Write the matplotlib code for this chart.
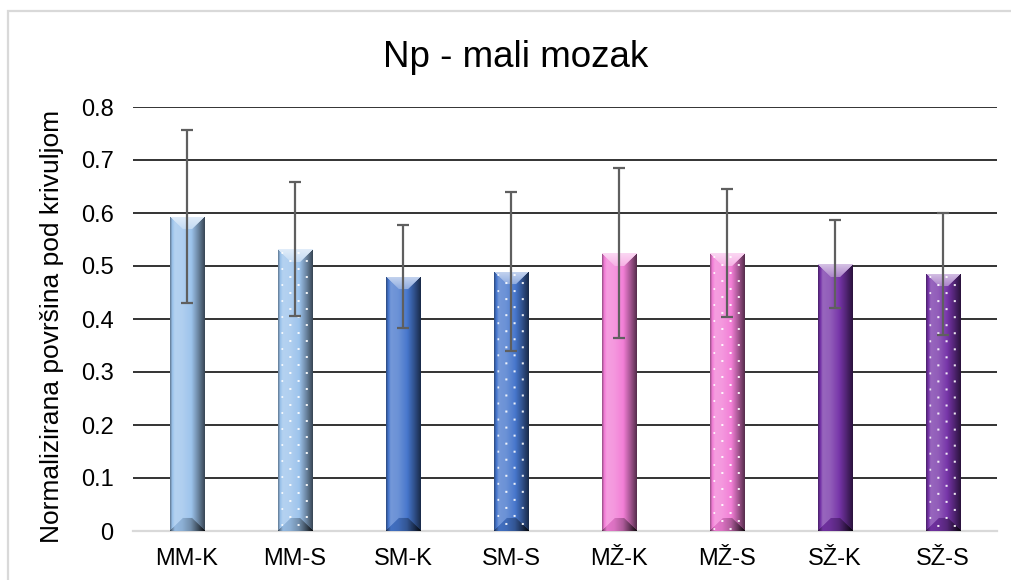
import numpy as np
import matplotlib
matplotlib.use("Agg")
import matplotlib.pyplot as plt
from matplotlib.colors import to_rgb
from matplotlib.patches import Rectangle

plt.rcParams["font.family"] = ["Liberation Sans", "DejaVu Sans"]

# --- data ---------------------------------------------------------------
categories = ["MM-K", "MM-S", "SM-K", "SM-S", "MŽ-K", "MŽ-S", "SŽ-K", "SŽ-S"]
means = [0.593, 0.532, 0.480, 0.489, 0.524, 0.524, 0.503, 0.485]
errors = [0.163, 0.126, 0.097, 0.150, 0.160, 0.121, 0.083, 0.115]
bar_colors = ["#9cc3ec", "#9cc3ec", "#4676cc", "#4676cc",
              "#f27ed6", "#f27ed6", "#7634a8", "#7634a8"]
dotted = [False, True, False, True, False, True, False, True]
y_ticks = [0, 0.1, 0.2, 0.3, 0.4, 0.5, 0.6, 0.7, 0.8]
y_tick_labels = ["0", "0.1", "0.2", "0.3", "0.4", "0.5", "0.6", "0.7", "0.8"]

title = "Np - mali mozak"
y_title = "Normalizirana površina pod krivuljom"

W_PX, H_PX, DPI = 1011, 580, 100
fig = plt.figure(figsize=(W_PX / DPI, H_PX / DPI), dpi=DPI)
ax = fig.add_axes([133 / W_PX, 1 - 531 / H_PX, (997 - 133) / W_PX, (531 - 107) / H_PX])

x = np.arange(len(categories))
bar_w = 0.315
ax.set_xlim(-0.5, len(categories) - 0.5)
ax.set_ylim(0, 0.8)

bars = ax.bar(x, means, width=bar_w, color=bar_colors, zorder=2,
              edgecolor="none")


def shade(rgb, amt):
    """amt > 0 blends towards white, amt < 0 towards black."""
    amt = amt[..., None]
    light = rgb + (1 - rgb) * np.clip(amt, 0, 1)
    dark = rgb * (1 + np.clip(amt, -1, 0))
    return np.where(amt >= 0, light, dark)


def bevel_image(wpx, hpx, color, with_dots):
    rgb = np.array(to_rgb(color))
    U, V = np.meshgrid(np.arange(wpx) + 0.5, np.arange(hpx) + 0.5)
    t = U / wpx
    # cylinder-like horizontal shading of the front face
    face = np.interp(t, [0, 0.06, 0.14, 0.35, 0.6, 0.8, 1.0],
                     [-0.4, -0.05, 0.25, 0.2, 0.02, -0.3, -0.65])
    amt = face.copy()
    b = min(0.38 * wpx, hpx / 2)
    dl, dr, dt, db = U, wpx - U, V, hpx - V
    top = (dt < b) & (dt <= dl) & (dt <= dr)
    bottom = (db < b) & (db <= dl) & (db <= dr)
    amt[top] = 0.7 - 0.3 * (dt[top] / b)
    amt[bottom] = face[bottom] - 0.3
    img = shade(rgb, amt)
    if with_dots:
        ui = np.floor(U).astype(int)
        vi = np.floor(V).astype(int)
        dots = (np.isin(ui % 8, [3, 4]) & np.isin(vi % 8, [3, 4])
                & (((ui // 8) + (vi // 8)) % 2 == 0))
        strength = np.where((t > 0.12) & (t < 0.85), 0.9, 0.5)
        img = np.where(dots[..., None],
                       img + (1 - img) * strength[..., None], img)
    alpha = np.ones(img.shape[:2] + (1,))
    return np.concatenate([img, alpha], axis=2)


for rect, col, dot in zip(bars, bar_colors, dotted):
    x0, y0 = rect.get_x(), rect.get_y()
    x1, y1 = x0 + rect.get_width(), y0 + rect.get_height()
    (px0, py0), (px1, py1) = ax.transData.transform([(x0, y0), (x1, y1)])
    wpx = max(int(round(px1 - px0)), 2)
    hpx = max(int(round(py1 - py0)), 2)
    im = ax.imshow(bevel_image(wpx, hpx, col, dot), extent=(x0, x1, y0, y1),
                   origin="upper", aspect="auto", interpolation="bilinear",
                   zorder=2.5)
    im.set_clip_path(rect)

ax.set_xlim(-0.5, len(categories) - 0.5)
ax.set_ylim(0, 0.8)

ax.errorbar(x, means, yerr=errors, fmt="none", ecolor="#5f5f5f",
            elinewidth=1.6, capsize=4, capthick=1.6, zorder=3)

# grid and axes styling
ax.set_axisbelow(True)
ax.yaxis.grid(True, color="#111111", linewidth=1.2)
ax.set_yticks(y_ticks)
ax.set_yticklabels(y_tick_labels)
ax.set_xticks(x)
ax.set_xticklabels(categories)
ax.tick_params(axis="both", length=0, labelsize=17, colors="#000000")
ax.tick_params(axis="y", pad=14)
ax.tick_params(axis="x", pad=12)
for side in ("top", "right", "left"):
    ax.spines[side].set_visible(False)
ax.spines["bottom"].set_color("#d9d9d9")
ax.spines["bottom"].set_linewidth(1.6)
ax.spines["bottom"].set_zorder(1)

fig.text(516 / W_PX, 1 - 67 / H_PX, title, ha="center", va="baseline",
         fontsize=26.5, color="#000000")
fig.text(52 / W_PX, 1 - 326 / H_PX, y_title, rotation=90, ha="center",
         va="center", fontsize=19, color="#000000")

# chart frame
fig.add_artist(Rectangle((8 / W_PX, -0.2), 1.2, 1.2 - 11 / H_PX,
                         transform=fig.transFigure, fill=False,
                         edgecolor="#d9d9d9", linewidth=1.6))

fig.savefig("out.png", dpi=DPI)
